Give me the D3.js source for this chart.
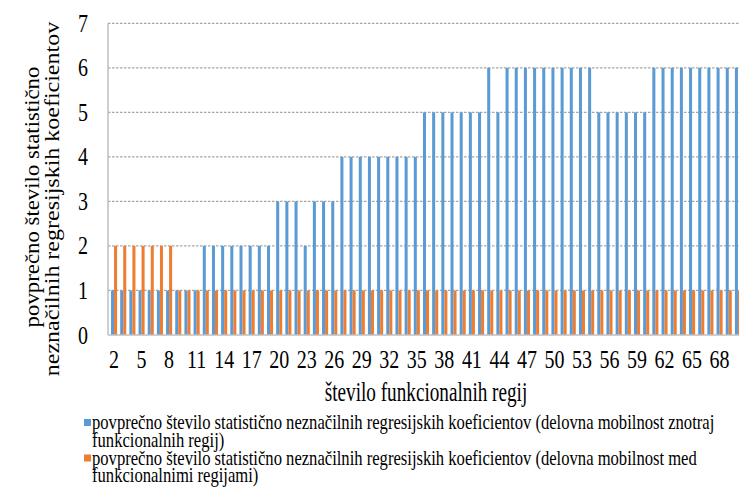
<!DOCTYPE html>
<html>
<head>
<meta charset="utf-8">
<script src="https://cdn.jsdelivr.net/npm/d3@7"></script>
<style>
  html, body { margin: 0; padding: 0; background: #fff; }
  svg { display: block; }
  text { font-family: "Liberation Serif", "Times New Roman", serif; fill: #000; }
</style>
</head>
<body>
<svg id="chart" width="739" height="489"></svg>
<script>
// Number of functional regions (x categories)
const categories = [2, 3, 4, 5, 6, 7, 8, 9, 10, 11, 12, 13, 14, 15, 16, 17, 18, 19, 20, 21,
  22, 23, 24, 25, 26, 27, 28, 29, 30, 31, 32, 33, 34, 35, 36, 37, 38, 39, 40, 41,
  42, 43, 44, 45, 46, 47, 48, 49, 50, 51, 52, 53, 54, 55, 56, 57, 58, 59, 60, 61,
  62, 63, 64, 65, 66, 67, 68, 69, 70];

// Average number of non-significant coefficients, commuting within regions
const withinValues = [1, 1, 1, 1, 1, 1, 1, 1, 1, 1, 2, 2, 2, 2, 2, 2, 2, 2, 3, 3,
  3, 2, 3, 3, 3, 4, 4, 4, 4, 4, 4, 4, 4, 4, 5, 5, 5, 5, 5, 5,
  5, 6, 5, 6, 6, 6, 6, 6, 6, 6, 6, 6, 6, 5, 5, 5, 5, 5, 5, 6,
  6, 6, 6, 6, 6, 6, 6, 6, 6];

// Average number of non-significant coefficients, commuting between regions
const betweenValues = [2, 2, 2, 2, 2, 2, 2, 1, 1, 1, 1, 1, 1, 1, 1, 1, 1, 1, 1, 1,
  1, 1, 1, 1, 1, 1, 1, 1, 1, 1, 1, 1, 1, 1, 1, 1, 1, 1, 1, 1,
  1, 1, 1, 1, 1, 1, 1, 1, 1, 1, 1, 1, 1, 1, 1, 1, 1, 1, 1, 1,
  1, 1, 1, 1, 1, 1, 1, 1, 1];

const xTickLabels = [2, 5, 8, 11, 14, 17, 20, 23, 26, 29, 32, 35, 38, 41, 44, 47, 50, 53, 56, 59, 62, 65, 68];
const yTickLabels = [0, 1, 2, 3, 4, 5, 6, 7];

const seriesNames = [
  ["povprečno število statistično neznačilnih regresijskih koeficientov (delovna mobilnost znotraj",
   "funkcionalnih regij)"],
  ["povprečno število statistično neznačilnih regresijskih koeficientov (delovna mobilnost med",
   "funkcionalnimi regijami)"]
];
const colors = ["#5B9BD5", "#ED7D31"];
const xTitle = "število funkcionalnih regij";
const yTitle = ["povprečno število statistično", "neznačilnih regresijskih koeficientov"];

const svg = d3.select("#chart");
const plotL = 108, plotR = 744, plotT = 23.3, plotB = 335;

const x = d3.scaleBand().domain(categories).range([plotL, plotR])
  .paddingInner(0.34).paddingOuter(0.33);
const y = d3.scaleLinear().domain([0, 7]).range([plotB, plotT]);
const barW = x.bandwidth() / 2;

// text helper: the serif face is drawn a little taller than its natural proportions
function label(g, tx, ty, str, size, anchor, opts = {}) {
  const sx = opts.sx || 1, sy = opts.sy || 1.3;
  return g.append("text")
    .attr("transform", `translate(${tx},${ty})` + (opts.rotate ? ` rotate(${opts.rotate})` : "") + ` scale(${sx},${sy})`)
    .attr("text-anchor", anchor || "start")
    .attr("font-size", size)
    .text(str);
}

// dashed horizontal gridlines
svg.append("g").selectAll("line")
  .data(yTickLabels.filter(v => v > 0))
  .join("line")
  .attr("x1", plotL).attr("x2", plotR)
  .attr("y1", d => y(d)).attr("y2", d => y(d))
  .attr("stroke", "#a6a6a6").attr("stroke-width", 1.2)
  .attr("stroke-dasharray", "2.5,1.5");

// bars
const bars = svg.append("g");
bars.selectAll("rect.within")
  .data(categories.map((c, i) => ({ c, v: withinValues[i] })))
  .join("rect").attr("class", "within")
  .attr("x", d => x(d.c)).attr("width", barW)
  .attr("y", d => y(d.v)).attr("height", d => y(0) - y(d.v))
  .attr("fill", colors[0]);
bars.selectAll("rect.between")
  .data(categories.map((c, i) => ({ c, v: betweenValues[i] })))
  .join("rect").attr("class", "between")
  .attr("x", d => x(d.c) + barW).attr("width", barW)
  .attr("y", d => y(d.v)).attr("height", d => y(0) - y(d.v))
  .attr("fill", colors[1]);

// axis lines
svg.append("line").attr("x1", plotL).attr("x2", plotL).attr("y1", plotT).attr("y2", plotB)
  .attr("stroke", "#bfbfbf").attr("stroke-width", 1.5);
svg.append("line").attr("x1", plotL).attr("x2", plotR).attr("y1", plotB).attr("y2", plotB)
  .attr("stroke", "#bfbfbf").attr("stroke-width", 1.5);

// y tick labels
const yt = svg.append("g");
yTickLabels.forEach(v => label(yt, 88, y(v) + 8.5, v, 20, "end"));

// x tick labels
const xt = svg.append("g");
xTickLabels.forEach(v => label(xt, x(v) + barW, 368, v, 20, "middle"));

// axis titles
label(svg, 426, 401, xTitle, 19.2, "middle", { sy: 1.45 });
const yg = svg.append("g");
label(yg, 38.5, 197, yTitle[0], 20, "middle", { rotate: -90, sx: 1.14, sy: 1 });
label(yg, 58.5, 199, yTitle[1], 20, "middle", { rotate: -90, sx: 1.2, sy: 1 });

// legend
const lg = svg.append("g");
seriesNames.forEach((lines, i) => {
  const base = 429 + i * 35.5;
  lg.append("rect").attr("x", 84).attr("y", base - 10).attr("width", 7).attr("height", 7)
    .attr("fill", colors[i]);
  label(lg, 92, base, lines[0], 16.6, "start", { sy: 1.3 });
  label(lg, 92, base + 17.7, lines[1], 16.6, "start", { sy: 1.3 });
});
</script>
</body>
</html>
